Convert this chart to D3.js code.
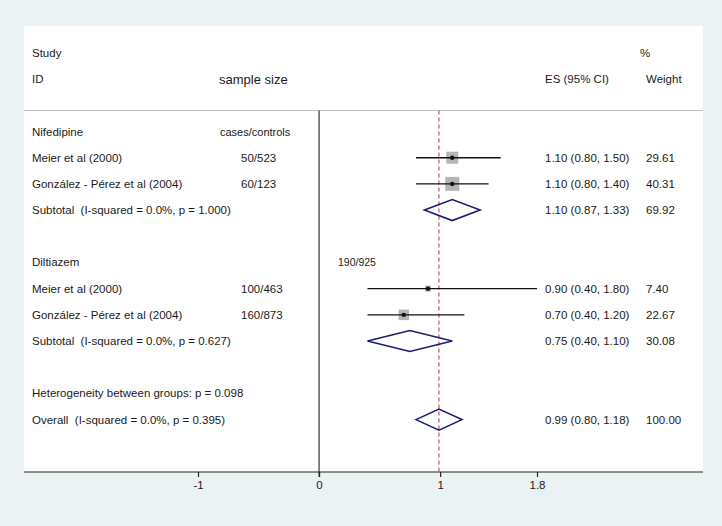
<!DOCTYPE html>
<html><head><meta charset="utf-8">
<script src="https://cdn.jsdelivr.net/npm/d3@7"></script>
<style>body{margin:0;background:#eaf2f3;} svg{display:block;} text{font-family:"Liberation Sans",Arial,sans-serif;fill:#1a1a1a;white-space:pre;}</style>
</head><body>
<svg id="c" width="722" height="526"></svg>
<script>
const groups = ["Nifedipine", "Diltiazem"];
const studyLabels = ["Meier et al (2000)", "González - Pérez et al (2004)", "Meier et al (2000)", "González - Pérez et al (2004)"];
const studyGroup = [0, 0, 1, 1];
const sampleSizes = ["50/523", "60/123", "100/463", "160/873"];
const studyES = [1.10, 1.10, 0.90, 0.70];
const studyLo = [0.80, 0.80, 0.40, 0.40];
const studyHi = [1.50, 1.40, 1.80, 1.20];
const studyWeight = [29.61, 40.31, 7.40, 22.67];
const subtotalLabels = ["Subtotal  (I-squared = 0.0%, p = 1.000)", "Subtotal  (I-squared = 0.0%, p = 0.627)"];
const subES = [1.10, 0.75];
const subLo = [0.87, 0.40];
const subHi = [1.33, 1.10];
const subWeight = [69.92, 30.08];
const overallLabel = "Overall  (I-squared = 0.0%, p = 0.395)";
const overallES = 0.99, overallLo = 0.80, overallHi = 1.18, overallWeight = 100.00;
const heterogeneityLabel = "Heterogeneity between groups: p = 0.098";
const groupTotalLabel = "190/925";
const tickValues = [-1, 0, 1, 1.8];

const svg = d3.select("#c");
const panel = {x0: 24, x1: 703, y0: 26, y1: 472};
svg.append("rect").attr("x", panel.x0).attr("y", panel.y0)
  .attr("width", panel.x1 - panel.x0).attr("height", panel.y1 - panel.y0).attr("fill", "#fff");

const x = d3.scaleLinear().domain([-1, 1.8]).range([198, 537]);
const y = d3.scaleLinear().domain([0, 13]).range([131.5, 472]);

// rows
const rows = [];
let r = 0;
groups.forEach((g, gi) => {
  rows.push({type: "group", label: g, row: r++, gi});
  studyLabels.forEach((s, i) => {
    if (studyGroup[i] === gi) rows.push({type: "study", label: s, row: r++, i});
  });
  rows.push({type: "sub", label: subtotalLabels[gi], row: r++, gi});
  r++;
});
rows.push({type: "het", label: heterogeneityLabel, row: r++});
rows.push({type: "overall", label: overallLabel, row: r++});

const fs = "11.5px";
const txt = (xx, yy, s, size, anchor) => svg.append("text").attr("x", xx).attr("y", yy).attr("dy", "0.35em")
  .attr("font-size", size || fs).attr("text-anchor", anchor || "start").attr("xml:space", "preserve").text(s);

// headers
txt(32, y(-3), "Study");
txt(32, y(-2), "ID");
txt(219, y(-2), "sample size", "13px");
txt(545, y(-2), "ES (95% CI)");
txt(640, y(-3), "%");
txt(646, y(-2), "Weight");

// separator line
svg.append("line").attr("x1", panel.x0).attr("x2", panel.x1).attr("y1", y(-0.8)).attr("y2", y(-0.8))
  .attr("stroke", "#bdbdbd").attr("stroke-width", 1);

// zero line
svg.append("line").attr("x1", x(0)).attr("x2", x(0)).attr("y1", y(-0.8)).attr("y2", y(13) + 5)
  .attr("stroke", "#333").attr("stroke-width", 1.2);

// overall dashed line
svg.append("line").attr("x1", x(overallES)).attr("x2", x(overallES)).attr("y1", y(-0.8)).attr("y2", y(13))
  .attr("stroke", "#8e3a4a").attr("stroke-width", 1).attr("stroke-dasharray", "4,3");

const fmt = d3.format(".2f");
const ci = (e, l, h) => `${fmt(e)} (${fmt(l)}, ${fmt(h)})`;

const diamond = (e, l, h, yy) => {
  const hh = 10.5;
  svg.append("path").attr("d", `M${x(l)},${yy}L${x(e)},${yy - hh}L${x(h)},${yy}L${x(e)},${yy + hh}Z`)
    .attr("fill", "none").attr("stroke", "#1c1c6e").attr("stroke-width", 1.6);
};

rows.forEach(d => {
  const yy = y(d.row);
  txt(32, yy, d.label);
  if (d.type === "group" && d.gi === 0) txt(220, yy + 1, "cases/controls", "11px");
  if (d.type === "group" && d.gi === 1) txt(338, yy, groupTotalLabel, "10.5px");
  if (d.type === "study") {
    const i = d.i;
    txt(241, yy, sampleSizes[i]);
    const side = 2.2 * Math.sqrt(studyWeight[i]);
    svg.append("rect").attr("x", x(studyES[i]) - side / 2).attr("y", yy - side / 2)
      .attr("width", side).attr("height", side).attr("fill", "#b5b5b5");
    svg.append("line").attr("x1", x(studyLo[i])).attr("x2", x(studyHi[i])).attr("y1", yy).attr("y2", yy)
      .attr("stroke", "#111").attr("stroke-width", 1.4);
    svg.append("circle").attr("cx", x(studyES[i])).attr("cy", yy).attr("r", 2.2).attr("fill", "#111");
    txt(545, yy, ci(studyES[i], studyLo[i], studyHi[i]));
    txt(646, yy, fmt(studyWeight[i]));
  }
  if (d.type === "sub") {
    diamond(subES[d.gi], subLo[d.gi], subHi[d.gi], yy);
    txt(545, yy, ci(subES[d.gi], subLo[d.gi], subHi[d.gi]));
    txt(646, yy, fmt(subWeight[d.gi]));
  }
  if (d.type === "overall") {
    diamond(overallES, overallLo, overallHi, yy);
    txt(545, yy, ci(overallES, overallLo, overallHi));
    txt(646, yy, fmt(overallWeight));
  }
});

// axis
const axisG = svg.append("g").attr("transform", `translate(0,${y(13)})`);
axisG.append("line").attr("x1", panel.x0).attr("x2", panel.x1).attr("stroke", "#222").attr("stroke-width", 1.2);
const axis = d3.axisBottom(x).tickValues(tickValues).tickSize(5).tickSizeOuter(0).tickFormat(d => String(d));
const ag = svg.append("g").attr("transform", `translate(0,${y(13)})`).call(axis);
ag.select(".domain").remove();
ag.selectAll(".tick line").attr("stroke", "#222").attr("stroke-width", 1.2);
ag.selectAll(".tick text").attr("font-size", fs).attr("font-family", "Liberation Sans, Arial, sans-serif").attr("fill", "#1a1a1a").attr("y", 9);
</script>
</body></html>
